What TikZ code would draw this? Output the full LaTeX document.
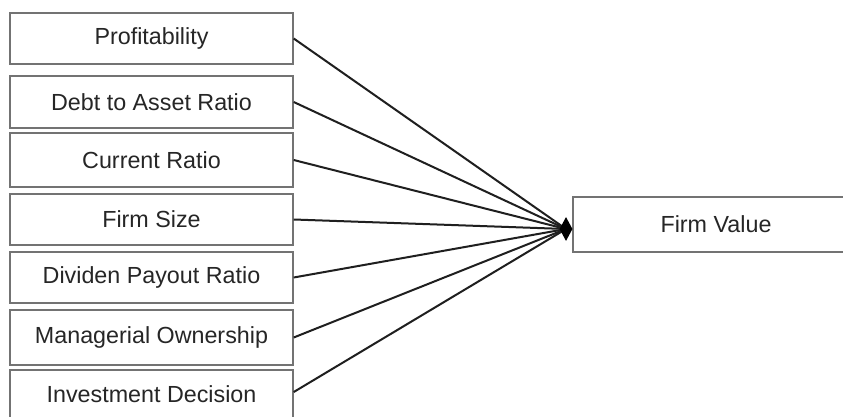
\documentclass[tikz,border=0pt]{standalone}
\usepackage{fontspec}
\setmainfont{Liberation Sans}
\usetikzlibrary{shapes.geometric}
\begin{document}
\begin{tikzpicture}[x=1pt,y=-1pt,
  varbox/.style={draw=black!55,line width=1.4pt,fill=white,minimum width=283pt,inner sep=0pt,
    font=\fontsize{23.3}{26}\selectfont,text=black!85},
  link/.style={draw=black!88,line width=2pt},
  hubtip/.style={diamond,fill=black,draw=none,inner sep=0pt,minimum width=13pt,minimum height=24pt}]
\useasboundingbox (0,0) rectangle (843,417);
\fill[white] (0,0) rectangle (843,417);
\node[varbox,minimum height=51pt] (b1) at (151.5,38.5) {Profitability};
\node[varbox,minimum height=52pt] (b2) at (151.5,102) {Debt to Asset Ratio};
\node[varbox,minimum height=54pt] (b3) at (151.5,160) {Current Ratio};
\node[varbox,minimum height=51pt] (b4) at (151.5,219.5) {Firm Size};
\node[varbox,minimum height=51pt] (b5) at (151.5,277.5) {Dividen Payout Ratio};
\node[varbox,minimum height=55pt] (b6) at (151.5,337.5) {Managerial Ownership};
\node[varbox,minimum height=54pt] (b7) at (151.5,397) {\raisebox{5pt}{Investment Decision}};
\node[varbox,minimum width=286pt,minimum height=55pt] (fv) at (716,224.5) {Firm Value};
\coordinate (hub) at (566,229);
\foreach \i in {1,...,6} {\draw[link] (b\i.east) -- (hub);}
\draw[link] (b7.2.8) -- (hub);
\node[hubtip] (dm) at (hub) {};
\end{tikzpicture}
\end{document}
